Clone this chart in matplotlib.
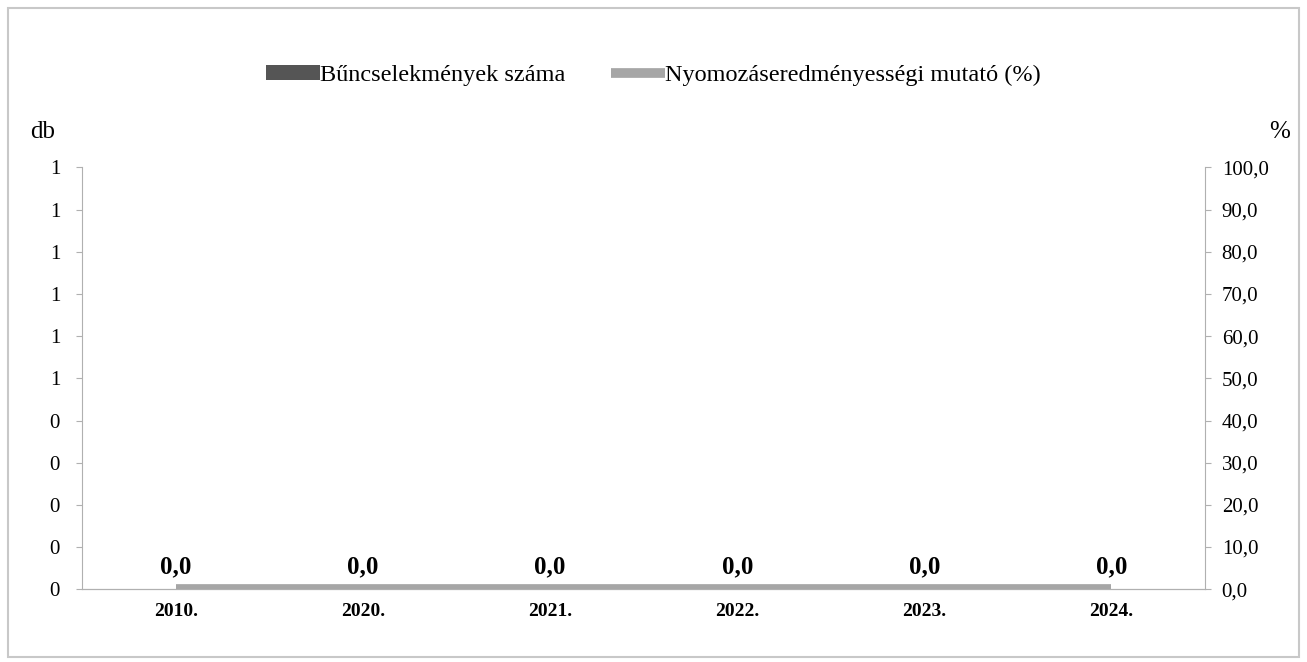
import matplotlib
matplotlib.use('Agg')
import matplotlib.pyplot as plt
from matplotlib.patches import Rectangle
from matplotlib.ticker import FuncFormatter

# data
years = ['2010.', '2020.', '2021.', '2022.', '2023.', '2024.']
crimes = [0, 0, 0, 0, 0, 0]
clearance = [0.0, 0.0, 0.0, 0.0, 0.0, 0.0]
left_ticks = [0, 0.1, 0.2, 0.3, 0.4, 0.5, 0.6, 0.7, 0.8, 0.9, 1.0]
right_ticks = [0, 10, 20, 30, 40, 50, 60, 70, 80, 90, 100]

plt.rcParams['font.family'] = ['Liberation Serif', 'DejaVu Serif']

fig = plt.figure(figsize=(13.07, 6.62), dpi=100)
fig.patches.append(Rectangle((0.006, 0.008), 0.988, 0.98, transform=fig.transFigure,
                             fill=False, edgecolor='#c8c8c8', lw=1.5))

ax = fig.add_axes([0.063, 0.11, 0.859, 0.637])
ax2 = ax.twinx()

x = range(len(years))
bars = ax.bar(x, crimes, width=0.5, color='#555555', label='Bűncselekmények száma')
ax.set_ylim(0, 1)
ax.set_xlim(-0.5, len(years) - 0.5)
ax.set_yticks(left_ticks)
ax.yaxis.set_major_formatter(FuncFormatter(lambda v, p: '%d' % int(v + 0.5)))

line, = ax2.plot(x, clearance, color='#a6a6a6', lw=7, solid_capstyle='butt',
                 label='Nyomozáseredményességi mutató (%)', zorder=3)
ax2.set_ylim(0, 100)
ax2.set_yticks(right_ticks)
ax2.yaxis.set_major_formatter(FuncFormatter(lambda v, p: ('%.1f' % v).replace('.', ',')))

for i, v in zip(x, clearance):
    ax2.annotate(('%.1f' % v).replace('.', ','), (i, v), xytext=(0, 8),
                 textcoords='offset points', ha='center', va='bottom',
                 fontsize=18, fontweight='bold')

ax.set_xticks(list(x))
ax.set_xticklabels(years, fontsize=14, fontweight='bold')
ax.tick_params(axis='x', length=0, pad=10)

for a in (ax, ax2):
    a.spines['top'].set_visible(False)
    a.spines['left'].set_color('#b0b0b0')
    a.spines['right'].set_color('#b0b0b0')
    a.spines['bottom'].set_color('#b0b0b0')
ax.spines['right'].set_visible(False)
ax2.spines['left'].set_visible(False)

ax.tick_params(axis='y', labelsize=15, color='#b0b0b0', length=4, pad=12)
ax2.tick_params(axis='y', labelsize=15, color='#b0b0b0', length=4, pad=8)

fig.text(0.023, 0.8, 'db', fontsize=18, ha='left', va='center')
fig.text(0.987, 0.8, '%', fontsize=18, ha='right', va='center')

fig.legend(handles=[bars, line], loc='center', bbox_to_anchor=(0.5, 0.886),
           ncol=2, frameon=False, fontsize=17.5, handlelength=2.2, handletextpad=0.0,
           columnspacing=1.9, handleheight=0.55)

fig.savefig('out.png', dpi=100)
